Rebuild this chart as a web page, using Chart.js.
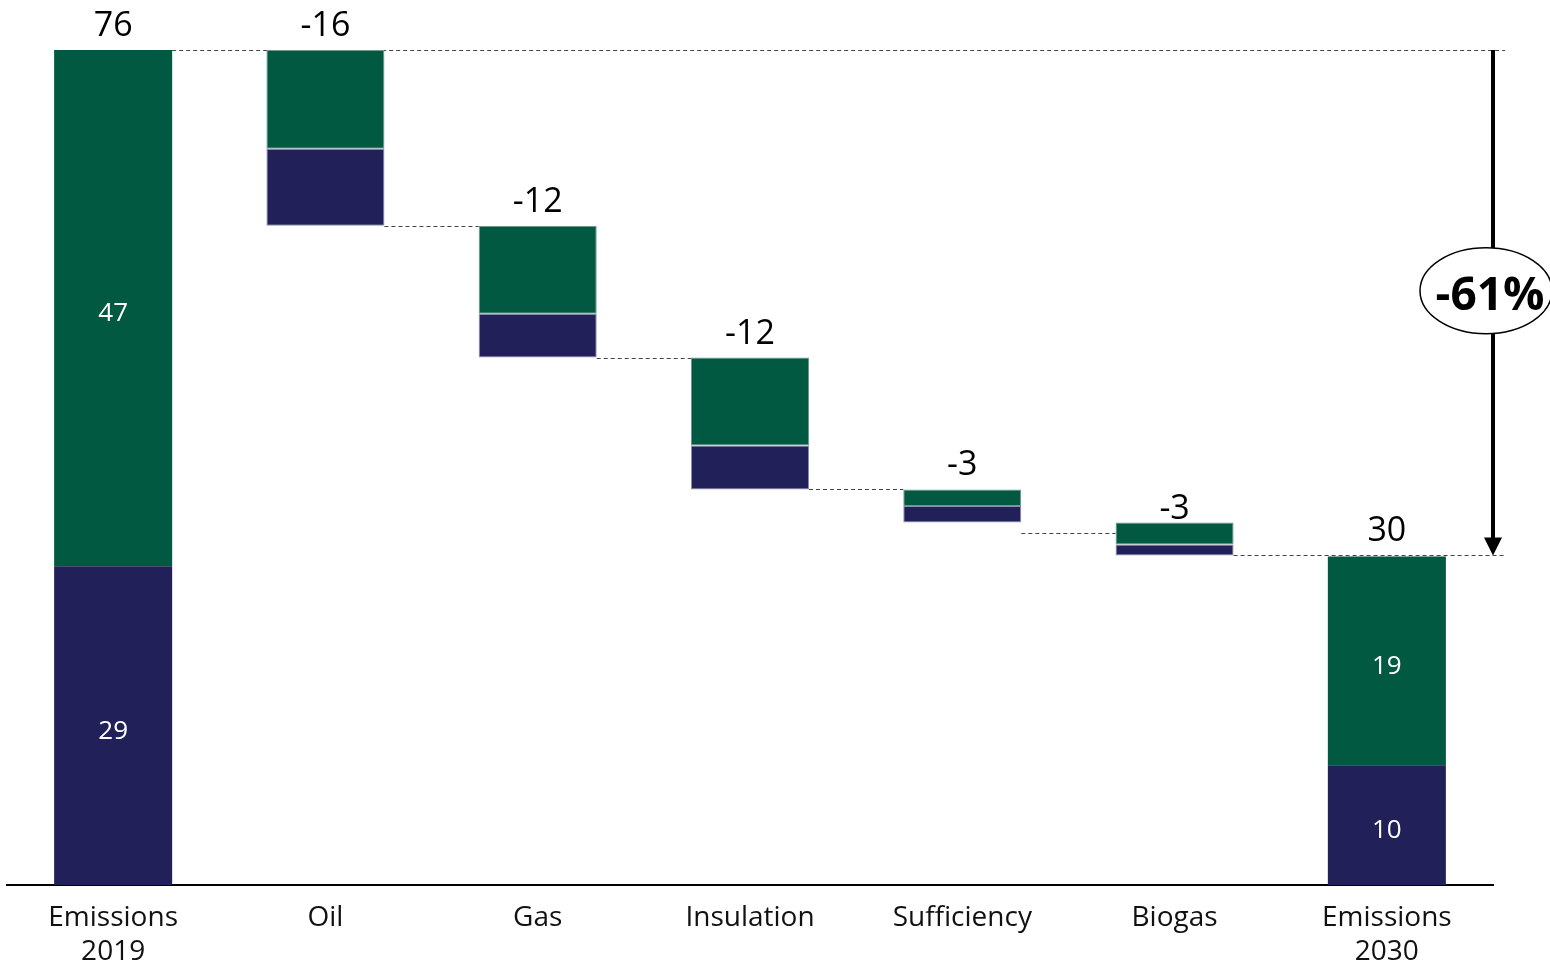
<!DOCTYPE html>
<html><head><meta charset="utf-8">
<script src="https://cdn.jsdelivr.net/npm/chart.js@4"></script>
<style>html,body{margin:0;padding:0;background:#fff}#wrap{width:1550px;height:963px;position:relative}</style>
</head><body><div id="wrap"><canvas id="c" width="1550" height="963"></canvas></div>
<script>
const categories = [['Emissions','2019'],'Oil','Gas','Insulation','Sufficiency','Biogas',['Emissions','2030']];
const isTotal = [true,false,false,false,false,false,true];
const navyValues = [29,-7,-4,-4,-1.5,-1,10.9];
const greenValues = [47,-9,-8,-8,-1.5,-2,19];
const totalLabels = ['76','-16','-12','-12','-3','-3','30'];
const navyLabels = ['29','','','','','','10'];
const greenLabels = ['47','','','','','','19'];
const connectorLevels = [76,60,48,36,32,30];
const reductionLabel = '-61%';
const yMax = 80;

const NAVY = '#222059', GREEN = '#005940';
const FONT = "'Open Sans', 'Noto Sans', sans-serif";

const navyRanges = [], greenRanges = [];
let running = 0;
for (let i = 0; i < categories.length; i++) {
  if (isTotal[i]) {
    navyRanges.push([0, navyValues[i]]);
    greenRanges.push([navyValues[i], navyValues[i] + greenValues[i]]);
    running = navyValues[i] + greenValues[i];
  } else {
    const top = running;
    const gBottom = top + greenValues[i];
    greenRanges.push([gBottom, top]);
    navyRanges.push([gBottom + navyValues[i], gBottom]);
    running = gBottom + navyValues[i];
  }
}

const overlay = {
  id: 'overlay',
  beforeDatasetsDraw(chart) {
    const {ctx, chartArea, scales: {y}} = chart;
    const bars = chart.getDatasetMeta(0).data;
    const endX = chartArea.right + 12;
    ctx.save();
    ctx.strokeStyle = '#444';
    ctx.lineWidth = 1;
    ctx.setLineDash([4, 3]);
    connectorLevels.forEach((lv, i) => {
      const py = Math.round(y.getPixelForValue(lv)) + 0.5;
      const x0 = bars[i].x + bars[i].width / 2;
      const x1 = (i === 0 || i === connectorLevels.length - 1) ? endX : bars[i + 1].x - bars[i + 1].width / 2;
      ctx.beginPath(); ctx.moveTo(x0, py); ctx.lineTo(x1, py); ctx.stroke();
    });
    ctx.restore();
  },
  afterDatasetsDraw(chart) {
    const {ctx, chartArea, scales: {y}} = chart;
    const bars = chart.getDatasetMeta(0).data;
    ctx.save();
    ctx.fillStyle = '#000';
    ctx.font = `34px ${FONT}`;
    ctx.textAlign = 'center';
    ctx.textBaseline = 'alphabetic';
    for (let i = 0; i < categories.length; i++) {
      const anchor = i === 0 ? greenRanges[0][1] : connectorLevels[i - 1];
      ctx.fillText(totalLabels[i], bars[i].x, y.getPixelForValue(anchor) - 14);
    }
    ctx.fillStyle = '#fff';
    ctx.font = `26px ${FONT}`;
    for (let i = 0; i < categories.length; i++) {
      if (navyLabels[i]) {
        const c = (y.getPixelForValue(navyRanges[i][0]) + y.getPixelForValue(navyRanges[i][1])) / 2;
        ctx.fillText(navyLabels[i], bars[i].x, c + 13);
      }
      if (greenLabels[i]) {
        const c = (y.getPixelForValue(greenRanges[i][0]) + y.getPixelForValue(greenRanges[i][1])) / 2;
        ctx.fillText(greenLabels[i], bars[i].x, c + 13);
      }
    }
    const ax = chartArea.right;
    const yTop = y.getPixelForValue(connectorLevels[0]);
    const yBot = y.getPixelForValue(connectorLevels[connectorLevels.length - 1]);
    ctx.strokeStyle = '#000';
    ctx.fillStyle = '#000';
    ctx.lineWidth = 4;
    ctx.beginPath(); ctx.moveTo(ax, yTop); ctx.lineTo(ax, yBot - 16); ctx.stroke();
    ctx.beginPath(); ctx.moveTo(ax - 9, yBot - 18); ctx.lineTo(ax + 9, yBot - 18); ctx.lineTo(ax, yBot); ctx.closePath(); ctx.fill();
    const ey = (yTop + yBot) / 2 - 12;
    const ex = ax - 7;
    ctx.beginPath();
    ctx.ellipse(ex, ey, 66, 43, 0, 0, Math.PI * 2);
    ctx.fillStyle = '#fff'; ctx.fill();
    ctx.lineWidth = 1.5; ctx.strokeStyle = '#000'; ctx.stroke();
    ctx.fillStyle = '#000';
    ctx.font = `bold 46px ${FONT}`;
    ctx.textAlign = 'center';
    ctx.fillText(reductionLabel, ex + 4, ey + 19);
    ctx.restore();
  }
};

const barCommon = {
  borderSkipped: false,
  categoryPercentage: 0.556,
  barPercentage: 1,
  borderWidth: isTotal.map(t => t ? 0 : 1),
};

new Chart(document.getElementById('c'), {
  type: 'bar',
  data: {
    labels: categories,
    datasets: [
      Object.assign({label: 'navy', data: navyRanges, backgroundColor: NAVY,
        borderColor: isTotal.map(t => t ? NAVY : '#8a8fb0')}, barCommon),
      Object.assign({label: 'green', data: greenRanges, backgroundColor: GREEN,
        borderColor: isTotal.map(t => t ? GREEN : '#6f9a8c')}, barCommon)
    ]
  },
  options: {
    responsive: false,
    animation: false,
    devicePixelRatio: 1,
    layout: {padding: {left: 7, right: 57, top: 6, bottom: 0}},
    plugins: {legend: {display: false}, tooltip: {enabled: false}},
    scales: {
      x: {
        stacked: true,
        offset: true,
        grid: {display: false, drawTicks: false},
        border: {display: true, color: '#000', width: 2},
        ticks: {font: {family: FONT, size: 28, lineHeight: 1.18}, color: '#111', padding: 17, maxRotation: 0, autoSkip: false},
        afterFit(s) { s.height = 78; }
      },
      y: {display: false, stacked: false, min: 0, max: yMax}
    }
  },
  plugins: [overlay]
});
</script>
</body></html>
